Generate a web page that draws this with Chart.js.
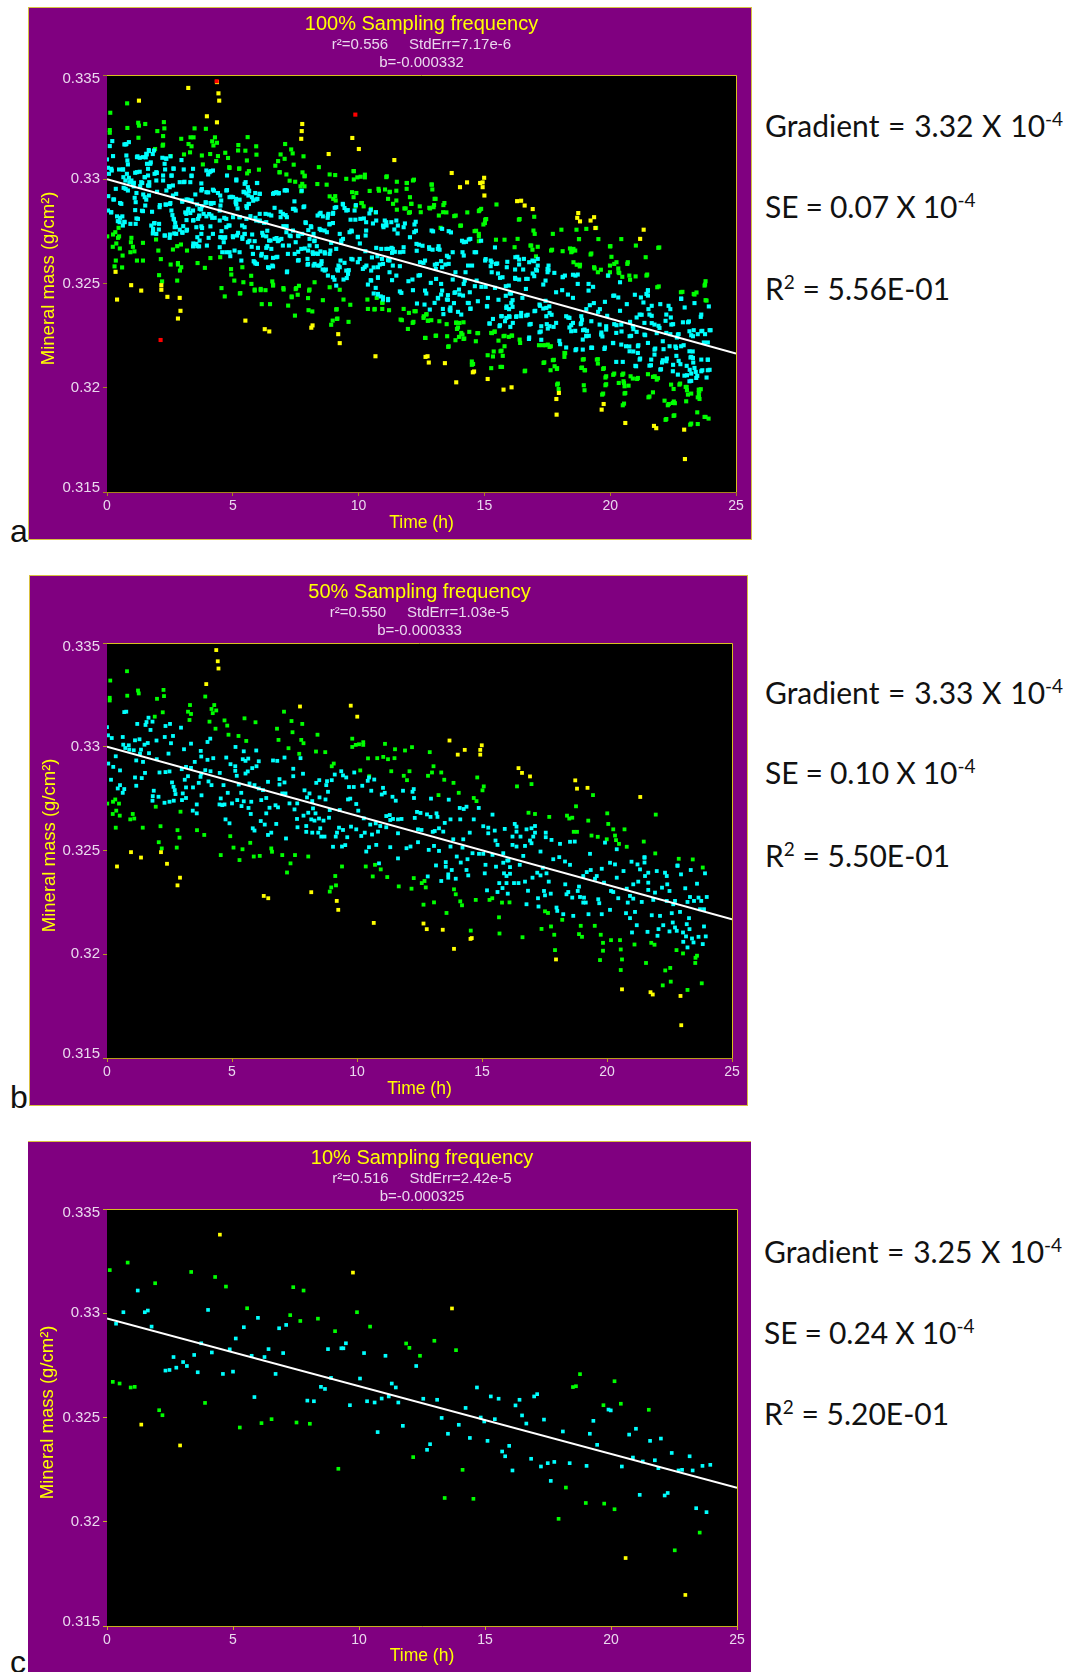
<!DOCTYPE html>
<html>
<head>
<meta charset="utf-8">
<script src="https://cdn.jsdelivr.net/npm/chart.js@4"></script>
<style>
html, body { margin: 0; padding: 0; background: #fff; }
body { position: relative; width: 1074px; height: 1672px; overflow: hidden; }
.panel { position: absolute; background: #800080; box-sizing: border-box; }
.panel canvas { display: block; }
.note { position: absolute; font-family: Lato, sans-serif; font-size: 30px; color: #111; white-space: nowrap; line-height: 36px; }
.note sup { font-size: 19px; line-height: 0; }
.grad { word-spacing: 1px; }
.se { word-spacing: -0.7px; }
.tag { position: absolute; font-family: "Liberation Sans", sans-serif; font-size: 32px; color: #111; line-height: 36px; }
</style>
</head>
<body>
<div class="panel" style="left:28px;top:7px;width:724px;height:533px;border:1px solid #d8c040"><canvas id="chartA" width="722" height="531"></canvas></div>
<div class="panel" style="left:29px;top:575px;width:719px;height:531px;border:1px solid #d8c040"><canvas id="chartB" width="717" height="529"></canvas></div>
<div class="panel" style="left:28px;top:1141px;width:723px;height:531px;border-top:1px solid #d8c040"><canvas id="chartC" width="723" height="530"></canvas></div>

<div class="tag" style="left:10px;top:513px">a</div>
<div class="tag" style="left:10px;top:1079px">b</div>
<div class="tag" style="left:10px;top:1644px">c</div>

<div class="note grad" style="left:765px;top:107px">Gradient = 3.32 X 10<sup>-4</sup></div>
<div class="note se" style="left:765px;top:188px">SE = 0.07 X 10<sup>-4</sup></div>
<div class="note" style="left:765px;top:270px">R<sup>2</sup> = 5.56E-01</div>
<div class="note grad" style="left:765px;top:674px">Gradient = 3.33 X 10<sup>-4</sup></div>
<div class="note se" style="left:765px;top:754px">SE = 0.10 X 10<sup>-4</sup></div>
<div class="note" style="left:765px;top:837px">R<sup>2</sup> = 5.50E-01</div>
<div class="note grad" style="left:764px;top:1233px">Gradient = 3.25 X 10<sup>-4</sup></div>
<div class="note se" style="left:764px;top:1314px">SE = 0.24 X 10<sup>-4</sup></div>
<div class="note" style="left:764px;top:1395px">R<sup>2</sup> = 5.20E-01</div>

<script>
var xTickLabels = ['0', '5', '10', '15', '20', '25'];
var yTickLabels = ['0.315', '0.32', '0.325', '0.33', '0.335'];

// regression lines, [time, mass] at both ends
var aLine = [[0, .33], [25, .32164]];
var bLine = [[0, .33], [25, .32169]];
var cLine = [[0, .32975], [25, .32163]];

// 10% panel
var cCyan = [[1.22,.33109],[.65,.33005],[1.5,.33005],[1.62,.33013],[.36,.3295],[1.77,.32936],[4.01,.33016],[5.99,.32978],[5.43,.32933],[6.83,.32928],[7.11,.32944],[5.11,.32879],[3.74,.32856],[4.87,.32827],[4.16,.32812],[3.46,.328],[2.64,.3279],[3.02,.32766],[3.17,.32747],[2.75,.32739],[2.32,.32725],[2.48,.32728],[3.6,.32717],[4.6,.32709],[5,.3272],[5.74,.32796],[6.25,.3279],[6.41,.32828],[6.99,.32809],[6.69,.32709],[5.85,.32598],[8.77,.32828],[9.3,.32832],[9.38,.32832],[9.48,.32856],[10.2,.32809],[11.05,.32796],[8.89,.3269],[10.04,.32687],[8.49,.32647],[8.65,.32637],[7.95,.32581],[8.21,.32578],[9.64,.32559],[10.32,.32578],[10.62,.32572],[10.9,.32591],[11.18,.32601],[11.3,.32663],[11.46,.32644],[11.56,.32572],[10.74,.3243],[12.27,.32747],[14.68,.32644],[15.23,.32601],[15.54,.3259],[16.37,.32585],[16.21,.32558],[16.95,.32601],[17.07,.32612],[12.55,.3259],[13.1,.32585],[14.23,.32546],[19.99,.32534],[13.28,.32498],[11.74,.3246],[13.96,.32465],[13.53,.32422],[14.83,.325],[14.97,.32481],[15.39,.32492],[14.4,.32402],[15.1,.32388],[12.82,.32372],[12.7,.32345],[15.68,.32337],[15.8,.32314],[15.96,.32364],[16.47,.3251],[16.64,.32471],[17.34,.3249],[18.09,.32433],[16.83,.32302],[17.22,.32265],[17.49,.32281],[17.75,.32287],[18.36,.32281],[19.03,.32268],[16.09,.32246],[17.61,.32196],[19.3,.32484],[19.9,.32538],[19.16,.32422],[19.45,.32369],[20.72,.32418],[20.99,.32446],[21.55,.32388],[21.98,.32399],[22.41,.3233],[23.12,.32314],[20.87,.32308],[21.26,.32289],[21.74,.32295],[20.43,.32265],[21.88,.32257],[22.68,.32246],[22.82,.32249],[23.24,.32246],[23.63,.32268],[23.94,.32273],[21.14,.32129],[22.13,.32126],[22.25,.32138],[23.38,.32065],[23.79,.32046]];
var cGreen = [[.11,.33207],[.82,.33243],[3.34,.33198],[1.91,.33144],[4.29,.33174],[4.72,.33128],[7.39,.33125],[7.8,.33109],[5.56,.33024],[7.27,.32991],[7.67,.32963],[8.37,.32974],[9.92,.33005],[10.44,.32936],[9.05,.32914],[.23,.32671],[.5,.32663],[.94,.32644],[1.1,.32647],[3.89,.3257],[2.07,.32535],[2.2,.32511],[5.27,.32452],[6.13,.32473],[6.53,.32492],[7.52,.32476],[8.05,.3247],[9.18,.32254],[11.87,.32855],[12,.32834],[12.42,.32796],[12.99,.32868],[13.85,.32823],[18.77,.32708],[18.49,.32646],[18.61,.3265],[20.14,.32674],[19.7,.32559],[20.39,.32566],[21.5,.32537],[12.15,.3231],[14.11,.32249],[13.4,.32114],[14.54,.3211],[18.21,.32164],[19,.3209],[19.73,.32087],[20.14,.3206],[17.92,.32014],[23.52,.31948],[22.53,.31863]];
var cYellow = [[4.48,.33377],[9.76,.33195],[1.36,.32466],[2.9,.32366],[13.69,.33023],[20.58,.31826],[22.95,.31649]];

// 50% panel
var bCyan = [[0,.33095],[.04,.33055],[.19,.33042],[.63,.33047],[.65,.3301],[.73,.32994],[.87,.33007],[.89,.32986],[1.07,.32983],[1.12,.33031],[1.3,.33036],[1.5,.3301],[1.63,.33018],[1.98,.3303],[1.68,.32969],[1.36,.32986],[1.32,.32967],[1.17,.32934],[1.44,.32927],[1.99,.3294],[1.21,.3311],[.69,.33167],[.77,.33169],[1.54,.33105],[1.58,.33119],[1.66,.3314],[1.82,.33121],[1.74,.33081],[2.34,.331],[2.52,.3311],[2.96,.33092],[2.31,.33047],[2.64,.33052],[2.56,.33017],[2.46,.32967],[3.08,.32988],[3.36,.33015],[3.75,.3298],[4.02,.33023],[4.13,.33039],[3.77,.32953],[4.02,.32937],[4.25,.32945],[3.51,.32927],[.05,.32919],[.25,.32903],[.35,.32954],[.52,.32886],[.16,.32841],[1.12,.32852],[1.39,.32849],[1.52,.32874],[2.1,.32876],[2.34,.32878],[2.5,.32881],[2.99,.32892],[3.16,.32903],[3.36,.32898],[3.24,.32858],[3.11,.32841],[3.77,.32871],[3.93,.32887],[4.14,.32882],[4.51,.32874],[3.74,.32855],[4.06,.32833],[4.18,.32815],[3.67,.32826],[4.77,.32948],[4.94,.32916],[5.13,.32906],[5.14,.32999],[5.47,.32978],[5.97,.32982],[5.43,.3294],[5.54,.32932],[5.65,.32943],[6.07,.3293],[5.13,.32884],[5.19,.3286],[5.54,.32871],[5.63,.32881],[5.81,.32897],[5.98,.32906],[6.64,.32934],[6.81,.32932],[7.1,.32948],[7.74,.32945],[7.45,.32894],[7.45,.32858],[7.84,.3287],[4.66,.32815],[4.83,.32778],[5.27,.32818],[5.37,.32778],[5.7,.32823],[5.9,.32815],[6.07,.32799],[6.24,.32791],[6.44,.32831],[6.9,.32844],[6.9,.32818],[7.1,.32828],[7.01,.32775],[7.14,.32775],[7.9,.3279],[8.1,.32775],[8.49,.32839],[8.37,.32826],[8.8,.32834],[8.77,.32815],[8.99,.32839],[9.11,.32866],[9.37,.32882],[9.44,.32862],[9.57,.32852],[9.89,.32876],[9.68,.32806],[9.87,.32806],[10.21,.32812],[10.43,.32836],[10.48,.32852],[10.69,.32842],[10.57,.32788],[11.04,.32802],[11.11,.32778],[10.99,.3277],[11.42,.32759],[11.55,.3274],[8.84,.32783],[8.74,.32746],[1.87,.32788],[1.83,.32762],[1.82,.3274],[2.06,.32759],[2.3,.3273],[2.5,.32735],[2.67,.3274],[3,.32743],[2.6,.32828],[2.66,.32807],[2.71,.32791],[2.74,.32772],[.52,.32815],[.43,.32799],[.69,.32796],[.63,.32778],[1.17,.32812],[3.03,.32775],[3.16,.32804],[3.16,.32753],[3.44,.32804],[3.78,.32766],[3.59,.32722],[3.43,.32692],[3.59,.32679],[4.5,.32722],[4.61,.32719],[4.7,.32722],[4.55,.32751],[5,.32727],[5.21,.32743],[5.47,.32737],[5.38,.32714],[5.66,.32705],[5.77,.32735],[6.17,.32743],[6.37,.32753],[6.5,.32706],[6.74,.32718],[6.84,.32708],[7.3,.32727],[7.5,.32698],[7.61,.32727],[8,.32756],[8.21,.32738],[8.5,.32756],[8.24,.32703],[8.34,.32679],[8.05,.32682],[7.86,.32668],[8.91,.32695],[9.31,.32695],[9.64,.32746],[9.73,.3275],[9.97,.32724],[10.05,.32692],[10.27,.32655],[4.74,.3265],[4.9,.32631],[5.75,.32676],[5.83,.32607],[5.9,.32596],[6.15,.32642],[6.31,.32625],[6.77,.32628],[6.44,.32575],[6.57,.32586],[7.16,.32558],[6.37,.32679],[7.6,.32652],[7.62,.32612],[8.17,.3265],[8.3,.32644],[8.48,.32654],[8.66,.32644],[8.88,.32658],[7.97,.32618],[7.97,.3259],[8.21,.32586],[8.53,.32607],[8.45,.32586],[8.57,.32567],[8.7,.32567],[9.04,.32518],[9.4,.32519],[9.53,.32526],[9.28,.3261],[9.44,.32599],[9.2,.32586],[9.15,.32567],[9.61,.32564],[9.76,.32615],[9.97,.32602],[10.17,.3257],[10.31,.32586],[10.6,.32577],[10.84,.32591],[10.53,.32625],[10.75,.32631],[11.17,.32666],[11.31,.32671],[11.33,.32647],[11.44,.32652],[11.64,.3265],[10.93,.32618],[11.17,.32612],[11.64,.32583],[10.77,.32527],[10.48,.32516],[10.37,.32495],[11.33,.32516],[10.88,.32438],[11.64,.32462],
[12.22,.32783],[12.27,.32796],[12.28,.32753],[11.84,.32788],[12.96,.3275],[13.67,.32745],[14.11,.32705],[14.27,.327],[14.38,.32711],[14.87,.32705],[15.42,.32673],[12.4,.32686],[12.54,.32681],[12.31,.32657],[11.78,.32652],[12.8,.32674],[12.94,.32662],[13.18,.32679],[13.22,.32662],[13.51,.32633],[13.74,.3265],[14.13,.3265],[14.67,.3265],[12.44,.32602],[12.58,.32599],[13.03,.3259],[13.28,.32607],[13.45,.32591],[13.11,.32594],[14.51,.32586],[15.05,.32617],[15.25,.3261],[15.25,.32583],[15.51,.32596],[15.91,.32604],[16.31,.32628],[16.38,.32615],[16.38,.32591],[16.78,.32602],[17.12,.32618],[16.98,.32607],[16.22,.32567],[16.54,.32567],[16.92,.32548],[17.05,.32567],[17.12,.32586],[17.55,.32586],[17.55,.32564],[17.78,.32551],[18.12,.32532],[18.52,.32542],[18.71,.32543],[15.54,.32548],[15.62,.32527],[16.22,.32527],[16.38,.32519],[16.72,.32522],[16.98,.32535],[17.34,.32495],[12.44,.3254],[11.98,.32511],[12.14,.32519],[13.08,.32522],[12.87,.32503],[13.28,.32498],[13.74,.32519],[14.25,.32554],[13.85,.32554],[14.22,.32514],[14.62,.32487],[14.88,.32484],[15.05,.32484],[15.42,.32479],[13.99,.32471],[14.15,.32442],[14.42,.32458],[15.85,.32487],[16.01,.32452],[16.65,.32474],[17.85,.32458],[18.09,.32468],[18.32,.32447],[18.52,.32431],[19.32,.32484],[19.92,.32538],[20.39,.32506],[21.5,.32468],[21.5,.32442],[22.82,.32426],
[13.16,.32428],[13.55,.32444],[13.55,.32422],[12.83,.32375],[13.37,.32353],[13.65,.32385],[13.65,.32369],[13.95,.32364],[13.79,.32406],[14.38,.32406],[14.45,.3238],[15.11,.3239],[15.14,.32431],[15.56,.32422],[15.85,.32441],[16.12,.3242],[16.06,.32452],[16.51,.32431],[15.88,.3239],[15.98,.32377],[16.12,.32388],[15.69,.32343],[15.98,.32343],[16.28,.32343],[16.46,.32343],[16.72,.3235],[15.82,.32319],[15.62,.323],[16.03,.32292],[15.2,.32308],[16.84,.32306],[16.78,.32241],[17.26,.3223],[17.24,.3227],[17.02,.32369],[17.21,.32393],[17.34,.3238],[17.58,.3239],[17.43,.32417],[17.67,.3235],[17.48,.32305],[17.52,.32284],[17.75,.32292],[17.98,.32225],[18.01,.32209],[18.25,.32193],[18.65,.32185],[18.38,.32289],[18.45,.323],[18.33,.32337],[18.61,.32273],[18.92,.32276],[19.08,.32273],[19.05,.32249],[19.15,.32249],[18.83,.32305],[18.88,.32326],[19.26,.32193],[19.79,.32193],[19.65,.32265],[19.69,.32246],[20.12,.32214],[19.05,.32377],[19.19,.32396],[19.35,.32406],[19.59,.32377],[19.79,.32412],[19.52,.32364],[19.88,.32345],[20.39,.32369],[20.12,.32441],[20.32,.32433],[20.66,.32401],[20.98,.32446],[21.22,.32433],[21.32,.32409],[21.52,.32377],[21.65,.32393],[21.5,.32465],[21.99,.32401],[22.32,.32393],[22.39,.32377],[22.96,.32385],[22.82,.32428],[23.35,.32406],[23.92,.3239],[21.05,.32337],[21.25,.3235],[21.65,.32345],[22.2,.32321],[22.41,.32337],[22.5,.32305],[20.16,.32305],[20.25,.323],[20.79,.32316],[20.92,.32281],[21.05,.32268],[21.39,.32252],[20.45,.3227],[20.83,.32249],[21.65,.3231],[21.92,.32297],[21.85,.32262],[22.39,.32257],[22.72,.32257],[22.65,.32241],[23.13,.32318],[23.6,.3234],[23.22,.32252],[23.32,.32276],[23.48,.32257],[23.66,.32273],[23.77,.32257],[23.99,.32276],[22.92,.32204],[22.59,.32198],[22.12,.32185],[21.79,.32188],[21.12,.32204],[20.92,.32174],[20.76,.32198],[23.72,.32217],[23.88,.32217],[23.28,.32174],[22.63,.32153],[22.25,.3214],[22.06,.32121],[22.72,.32129],[22.79,.32113],[22.5,.3211],[23.19,.32145],[23.3,.32121],[23.04,.32105],[23.16,.32086],[23.88,.32134],[21.19,.3214],[21,.32105],[21.62,.32108],[22.02,.32089],[23.4,.32076],[23.46,.32057],[23.66,.32084],[23.95,.32086],[23.05,.3206],[23.83,.32049],[23.22,.32033]];
var bGreen = [[.13,.33319],[.8,.33364],[.11,.33223],[.11,.33236],[1.24,.33271],[1.27,.33257],[.81,.33246],[2,.33231],[2.26,.33274],[2.28,.33244],[3.32,.33201],[3.93,.33242],[4.29,.33201],[4.18,.33182],[4.23,.33162],[4.37,.33175],[3.24,.33169],[3.36,.33158],[3.3,.33129],[2.23,.33166],[1.91,.33145],[4.1,.33121],[4.34,.33087],[4.7,.33127],[4.81,.33102],[5.5,.33137],[5.94,.33118],[4.86,.33058],[5.26,.33052],[5.57,.33028],[6.8,.33087],[6.86,.33033],[7.08,.33169],[7.38,.33124],[7.42,.3307],[7.81,.3311],[7.77,.33033],[7.86,.33017],[7.26,.32993],[7.69,.32966],[8.36,.32977],[8.73,.32974],[8.42,.33058],[9.81,.33039],[9.81,.32999],[9.95,.33009],[10.08,.33012],[10.25,.33022],[10.25,.33009],[11.12,.33014],[11.52,.32988],[10.44,.32944],[10.81,.32945],[11.05,.32951],[11.24,.3294],[11.5,.32945],[8.99,.32906],[9.07,.32919],[10.13,.32886],[10.49,.32858],[11.37,.32882],[.01,.32726],[.24,.32735],[.33,.32746],[.48,.32726],[.37,.32692],[.23,.32676],[.51,.32668],[.93,.3265],[1.09,.32654],[1.03,.32676],[.35,.3261],[1.43,.3261],[1.95,.32711],[2.14,.32617],[2.94,.32687],[2.82,.32598],[2.9,.32562],[3.6,.32598],[3.89,.32575],[2.07,.3254],[2.19,.3251],[2.79,.32514],[4.93,.32569],[5.06,.32514],[5.42,.32506],[5.73,.32537],[6.57,.3251],[6.6,.32494],[4.55,.32478],[5.3,.32454],[5.87,.32471],[6.11,.32474],[7.01,.32478],[7.52,.32478],[8.05,.32471],[7.34,.32438],[7.2,.32394],[9.13,.32377],[8.97,.32322],[8.91,.32302],[9.16,.32332],[9.4,.32423],[10.35,.32423],[10.72,.32431],[10.95,.32409],[10.63,.32375],[11.21,.32372],[11.67,.32327],
[11.92,.32982],[12.2,.32998],[12.91,.32974],[13.06,.32906],[13,.32876],[12.84,.3286],[12.1,.32882],[11.87,.3286],[12,.32839],[13.37,.32876],[13.49,.32841],[13.86,.32826],[13.26,.32767],[14.07,.32778],[14.81,.32852],[15.07,.32809],[15.02,.3279],[14.67,.32753],[14.78,.32738],[16.4,.32809],[16.98,.3282],[19.44,.32767],[18.76,.32713],[16.86,.32682],[17.12,.32676],[17.69,.32662],[18.4,.32668],[18.49,.32654],[18.61,.32658],[19.25,.32644],[20.01,.32679],[20.05,.32628],[20.25,.32602],[20.7,.32602],[21.95,.32673],[18.67,.3259],[18.8,.3259],[19.38,.32572],[19.63,.32566],[19.99,.32554],[20.32,.32572],[20.36,.3255],[20.48,.32532],[20.79,.32518],[21.47,.32543],[21.93,.32486],[22.87,.3246],[23.43,.32457],[23.83,.32418],
[12.27,.32367],[12.18,.32316],[12.59,.32343],[12.7,.32353],[12.75,.32322],[12.66,.32239],[13.08,.3225],[13.58,.32199],[13.88,.32313],[13.95,.32289],[14.13,.32255],[14.2,.32236],[14.75,.32262],[15.3,.32262],[15.41,.3227],[15.8,.32249],[16.1,.3225],[15.68,.32178],[15.7,.321],[14.55,.32114],[16.62,.32082],[17.52,.32207],[17.64,.32199],[18.21,.32166],[17.38,.32122],[17.76,.32134],[17.89,.32094],[17.92,.3202],[18.88,.32097],[19,.32084],[18.95,.32137],[19.51,.32137],[19.75,.32094],[19.84,.32055],[19.84,.32017],[19.72,.31972],[20.16,.32068],[20.52,.32068],[20.55,.32023],[20.6,.31975],[20.55,.31924],[21.1,.32047],[21.77,.32055],[21.9,.32046],[21.56,.31958],[22.78,.3202],[23.04,.32004],[22.33,.31922],[22.53,.31934],[22.23,.3185],[22.55,.31868],[23.54,.31983],[23.6,.31993],[23.53,.31958],[23.79,.3186],[23.22,.31828]];
var bYellow = [[4.37,.33466],[4.43,.33412],[4.46,.33377],[3.97,.33302],[7.72,.33194],[9.75,.33198],[10.01,.33145],[.96,.32492],[1.36,.32466],[2.16,.32492],[2.4,.32436],[.4,.32423],[2.92,.32369],[2.82,.32332],[6.27,.32281],[6.45,.3227],[8.17,.32299],[9.19,.32257],[9.25,.32214],[10.67,.32151],[13.7,.3303],[14.03,.32962],[14.31,.32985],[14.99,.33007],[14.93,.32985],[14.93,.32962],[16.46,.32897],[16.6,.32874],[16.92,.32857],[18.73,.32838],[18.8,.32798],[19.22,.32802],[21.33,.32758],[12.66,.32148],[12.79,.32121],[13.43,.32118],[13.88,.32026],[14.54,.32074],[14.59,.32078],[17.96,.31975],[20.6,.31831],[21.74,.31817],[21.83,.31806],[22.94,.31799],[22.97,.31658]];

// 100% panel: the 50% points plus the ones only seen at full sampling
var aCyanExtra = [[.21,.33183],[.11,.33159],[.74,.33167],[.87,.33178],[.24,.33111],[.77,.33114],[.81,.3309],[.83,.33071],[1.19,.33106],[1.3,.33103],[1.43,.33106],[1.56,.33122],[1.67,.33135],[1.87,.33138],[2.2,.33103],[2.36,.33098],[2.29,.33074],[1.59,.33074],[1.72,.33074],[1.63,.3305],[1.19,.33034],[.48,.33047],[.64,.33047],[.79,.33026],[.97,.32994],[1.03,.32982],[.17,.3305],[.08,.33026],
[2.65,.3305],[3.05,.33047],[3.42,.3305],[3.36,.33018],[3.31,.32986],[2.89,.32986],[3.05,.32986],[2.62,.3297],[2.49,.32962],[2.36,.32946],[1.96,.32994],[1.89,.33026],[1.96,.33034],[1.4,.32982],[1.5,.3301],[1.63,.3297],[1.68,.32986],[2.23,.33018],[2.23,.32994],[2.57,.33018],[.74,.32954],[.83,.32946],[.66,.32959],[1.06,.32966],
[3.95,.33042],[4.08,.33034],[4.21,.33042],[4.77,.33018],[5.14,.32994],[5.51,.32986],[5.6,.32962],[5.63,.32946],[5.96,.32982],[5.44,.32938],[5.62,.32922],[5.76,.32914],[5.89,.32934],[6.07,.3293],[5.93,.32903],[5.64,.32882],[5.56,.32863],[5.27,.32902],[5.11,.3289],[5.01,.32914],[5.14,.32879],[6.6,.3293],[6.73,.32938],[6.83,.32934],[7.06,.32946],[7.15,.32946],
[3.75,.32946],[3.95,.32938],[4.21,.3295],[4.41,.32934],[4.5,.32922],[4.74,.32946],[4.87,.32914],[4.54,.32898],[4.24,.32886],[3.92,.3289],[4.11,.32886],[4.48,.3285],
[.28,.32903],[.57,.32882],[1.1,.32911],[1.14,.3289],[1.5,.32914],[1.56,.32902],[1.67,.32922],[1.43,.32847],[1.79,.32844],[2.09,.32866],[2.33,.32879],[2.52,.32886],[2.62,.32922],[2.75,.3293],[2.99,.32898],[3.22,.32902],[3.35,.32898],[3.58,.32879],[3.42,.3285],[3.68,.32858],[3.84,.32834],[3.95,.32822],[4.15,.32826],[4.28,.32815],
[.04,.3285],[.17,.32842],[.4,.32822],[.61,.32822],[.5,.32794],[.7,.32794],[.93,.32786],[1.14,.32786],[1.23,.3281],[1.89,.3279],[1.76,.32778],[1.83,.32754],[1.96,.32738],[2.07,.32786],[2.29,.3273],[2.49,.32719],[2.56,.3285],[2.65,.3281],[2.69,.3277],[2.75,.32738],[3.22,.3285],[3.15,.32834],[3.31,.32838],[2.99,.32746],[3.18,.32758],[2.89,.32758],[3.42,.32802],[3.62,.3281],[3.66,.32822],[3.55,.3277],[3.75,.32774],[3.75,.32738],[4.11,.32774],[4.21,.32738],[4.04,.32719],[3.68,.32706],[3.55,.3269],[3.42,.32678],[3.66,.32678],[3.97,.32682],
[4.48,.32802],[4.74,.3281],[5.01,.32818],[5.27,.32818],[5.54,.3281],[4.54,.32722],[4.68,.32719],[4.64,.32698],[5.01,.32722],[5.17,.3273],[5.38,.32722],[5.47,.32738],[4.74,.3277],[4.87,.32778],[5.47,.3277],[5.93,.32802],[6.07,.32834],[6.33,.32794],[6.3,.32834],[6.53,.32826],[6.66,.32863],[6.99,.32834],[7.15,.32818],[7.39,.32858],[7.5,.3285],[7.81,.32866],[7.89,.32794],[8.12,.3277],[8.45,.32834],[8.58,.32822],[8.78,.32826],[8.98,.32834],[9.05,.32863],[9.38,.32879],[9.51,.3285],[9.84,.3285],[10.07,.3281],[10.3,.32794],[10.7,.32802],[10.97,.32778],[11.1,.32794],[11.3,.32794],[11.5,.32802],[11.56,.32778],
[6.07,.32802],[6.2,.3273],[6.33,.32726],[6.44,.32706],[6.66,.32714],[6.79,.32703],[6.93,.32714],[7.13,.32746],[7.26,.3273],[7.39,.32754],[7.59,.3273],[7.76,.32738],[8.05,.32714],[8.25,.32706],[8.45,.32762],[8.65,.32754],[8.85,.32786],[8.98,.3279],[9.25,.32738],[9.38,.32714],[9.71,.32754],[9.97,.32722],[10.28,.3273],[10.3,.32754],[10.7,.32671],[10.9,.32666],[11.1,.32666],[11.36,.32666],
[4.48,.32674],[4.58,.3265],[4.87,.3265],[5.07,.32658],[5.27,.3265],[5.6,.32698],[5.87,.32703],[6,.32671],[6.33,.32671],[6.53,.32666],[6.99,.32682],[7.23,.32682],[7.46,.32642],[7.72,.32666],[7.99,.32658],[8.19,.32642],[8.38,.32642],[8.65,.3265],[8.85,.32642],[9.11,.32666],[9.31,.32706],
[5.34,.3261],[5.8,.32642],[5.87,.32602],[5.96,.32594],[6.13,.32634],[6.33,.32626],[6.6,.32623],[6.73,.32626],[7.19,.32642],[7.59,.3261],[7.99,.32594],[8.25,.32594],[8.38,.32586],[8.52,.32594],[8.65,.32562],[8.78,.32538],[8.98,.3253],[9.18,.32562],[9.25,.32578],[9.51,.32562],[9.58,.32546],[9.71,.32618],[10.04,.32618],[10.24,.32578],[10.5,.32562],[10.77,.32578],[10.97,.32594],[11.23,.3261],[11.36,.32586],
[6.4,.32578],[6.6,.32582],[7.15,.32554],[10.5,.32514],[10.77,.3253],[11.23,.32554],[11.5,.32538],[10.77,.3245],[10.97,.32434],[11.17,.32426],[10.68,.32479],[10.6,.32452],[10.77,.32447],[10.97,.32423],[11.17,.3242],[9.11,.3249],
[11.7,.32455],[12.16,.32468],[12.32,.32404],[12.62,.32399],[12.69,.32452],[13.02,.32407],[13.15,.32431],[13.28,.32447],[13.51,.32423],[13.35,.32378],[13.62,.32375],[13.81,.32455],[14.01,.32447],[14.08,.32351],[14.34,.32407],[14.44,.32378],[14.74,.32415],[15.1,.32391],[15.21,.32308],[15.34,.3233],[15.6,.32295],[15.67,.32343],[15.87,.32335],[16,.3234],[15.87,.32383],[16.07,.32407],[16.13,.32311],[16.26,.3234],[16.46,.32359],[16.66,.32346],[16.79,.32303],[16.99,.32367],[17.19,.32399],[17.46,.32383],[17.59,.32359],[17.46,.32343],[17.26,.32295],[17.19,.32266],[17.59,.32295],[17.85,.32311],[18.25,.32343],[18.38,.32335],[18.52,.32311],[18.45,.32271],[18.85,.32343],[18.85,.32311],[18.98,.32279],[19.25,.32319],[19.05,.32247],[18.91,.32231],[19.25,.32191],[19.58,.32303],[19.84,.32295],[19.64,.32255],[19.84,.32279],[20.11,.32215],[20.24,.32263],[20.44,.32303],[20.44,.32207],[20.77,.32247],[20.63,.32199],[20.9,.32295],[21.17,.32351],[21.56,.32351],[21.36,.32311],[21.36,.32255],[21.5,.32215],[21.1,.32199],[21.76,.32303],[21.96,.32287],[22.23,.32351],[22.43,.32303],[22.23,.32263],[22.69,.32255],[22.89,.32314],[23.09,.32314],[23.15,.32271],[23.29,.32247],[23.62,.32351],[23.62,.32271],[23.95,.32276],[23.75,.32215],[22.09,.32223],[22.36,.32199],[22.62,.32191],[22.82,.32199],[23.15,.32175],[23.22,.32148],[23.29,.32143],[23.62,.32135],[23.88,.32135],[23.88,.32084],[23.62,.32079],[23.35,.32095],[23.22,.32068],[23.42,.32047],[23.15,.32031],[22.95,.32058],[22.69,.32063],[22.49,.32079],[22.23,.32127],[22.09,.32132],[21.63,.32135],[21.56,.32106],[21.17,.32135],[21.03,.32103],[20.24,.32124],[20.5,.32124],[21.99,.32087],[21.76,.32183],[21.76,.32159],[16.77,.32234],[18.62,.3218],[18.91,.32183],[19.28,.32191],[19.77,.32186],[20.77,.32175],[21.1,.32167],
[11.79,.3277],[12.21,.32746],[12.04,.32722],[12.9,.32754],[13.32,.32762],[13.58,.32751],[14.18,.32698],[14.44,.32714],[14.61,.3265],[14.18,.32634],[13.58,.32626],[13.15,.32666],[12.81,.32666],[12.3,.3269],[11.79,.32674],[15.03,.3261],[15.29,.32602],[15.46,.32594],[15.89,.32578],[16.23,.32626],[16.57,.32618],[16.91,.3261],[17.51,.3257],[17.51,.32554],[18.2,.32538],[18.62,.32538],[18.71,.32498],[18.11,.3253],[17.43,.32514],[19.14,.32498],[19.14,.32466],[20.16,.32442],[21.44,.3245],[15.29,.32554],[15.72,.3253],[14.35,.32586],[13.58,.32594],[13.32,.32578],[12.64,.3261],[12.38,.32538],[13.07,.3257],[16.23,.32522],[16.66,.32522],[17.09,.32562],[15.97,.3249],[14.18,.32498],[14.69,.32514],[12.64,.32466],[13.32,.32466],[13.84,.32458]];
var aGreenExtra = [[2.23,.33207],[2.21,.33161],[1.52,.33265],[1.25,.33199],[2.95,.33194],[3.44,.33201],[3.48,.33244],[3.06,.33119],[2.53,.33111],[3.77,.33114],[3.81,.33071],[4.41,.33111],[4.87,.33054],[5.22,.33164],[5.21,.33138],[5.56,.3309],[5.59,.33202],[5.93,.33158],[6.04,.33046],[5.25,.3305],[5.64,.33039],[6.9,.33119],[7.06,.33098],[6.69,.33065],[7.32,.33143],[7.13,.33023],[6.86,.33034],[7.48,.32988],[7.85,.33014],[7.76,.32978],[7.85,.32966],[7.72,.32942],[8.85,.33023],[9.07,.3302],[9.51,.33002],[9.8,.33039],[9.74,.32938],[9.91,.32934],[9.8,.32914],[8.85,.32918],[9.09,.32898],[9.88,.3287],[10.11,.32886],[10.2,.3287],[10.68,.32841],[10.79,.32954],[11.23,.32938],[11.1,.3301],[11.17,.32906],[11.5,.32898],[11.52,.32854],
[.46,.32767],[.44,.32719],[.97,.32719],[.95,.32698],[1.43,.32695],[1.19,.3261],[.62,.32634],[.3,.32582],[.6,.32577],[2.04,.32658],[2.53,.32591],[2.82,.32591],[2.95,.32578],[2.62,.32663],[2.79,.32679],[3.18,.32658],[4.11,.32622],[4.5,.32626],[4.94,.32543],[5.38,.32578],[5.74,.32498],[5.87,.32466],[6.11,.32468],[6.3,.32468],[4.68,.32438],[6.6,.3249],[7.02,.32471],[7.34,.32434],[7.63,.32489],[7.5,.32473],[8.03,.32466],[8.25,.32506],[8.85,.32482],[9.25,.3247],[5.28,.32452],[6.15,.32401],[6.48,.32401],[7.58,.32446],[7.99,.3243],[8.01,.32372],[8.16,.32366],[7.47,.32346],[8.58,.3242],[9.11,.32375],[9.14,.3233],[9.6,.32316],[9.67,.32398],[10.37,.32378],[10.64,.32378],[10.94,.32378],[10.94,.32407],
[11.79,.32378],[12,.32359],[12.22,.32367],[11.72,.32324],[11.96,.32282],[12.15,.32311],[12.58,.32335],[12.69,.32351],[12.76,.32321],[12.89,.32324],[13.21,.32319],[13.5,.32305],[12.64,.32239],[13.06,.32249],[13.52,.32247],[13.56,.32196],[13.88,.32311],[14.01,.32311],[14.17,.32314],[13.91,.32282],[14.08,.32263],[13.99,.32244],[13.85,.32228],[14.17,.32234],[14.4,.32268],[14.72,.32262],[14.66,.32223],[15.27,.32263],[15.4,.32268],[15.56,.32226],[15.76,.32247],[15.8,.32199],[15.97,.32244],[16.08,.3225],[16.4,.32231],[16.42,.32215],[15.13,.32156],[15.34,.3215],[15.37,.32174],[15.64,.32175],[15.73,.32153],[14.5,.32126],[14.5,.3211],[15.27,.32094],[15.64,.321],[16.6,.32079],[17.17,.32204],[17.32,.32204],[17.43,.32204],[17.59,.32196],[18.18,.32167],[18.18,.32148],[17.35,.32119],[17.72,.32132],[17.79,.32103],[17.88,.3209],[17.63,.32084],[17.89,.32015],[17.95,.31994],[18.91,.32135],[18.85,.32095],[18.98,.32084],[18.95,.32012],[18.98,.31988],[19.47,.32135],[19.51,.32116],[19.72,.3209],[19.81,.32049],[19.81,.32012],[19.68,.31967],[20.12,.32062],[20.48,.32062],[20.34,.32023],[20.53,.32031],[20.73,.3201],[20.57,.32007],[20.57,.31972],[20.5,.31916],[20.81,.32055],[20.9,.32044],[21.07,.32042],[21.5,.32065],[21.7,.32052],[21.85,.32039],[21.7,.31978],[21.52,.31954],[22.16,.31938],[22.29,.31916],[22.49,.31927],[22.57,.31926],[22.2,.31846],[22.52,.31865],[22.42,.32015],[22.75,.32015],[22.52,.31994],[23,.32004],[23.05,.31988],[23.09,.31967],[23.22,.31972],[23.02,.31935],[23.52,.31991],[23.52,.31975],[23.48,.31954],[23.55,.31946],[23.46,.31882],[23.18,.31823],[23.48,.31826],[23.75,.3186],[23.91,.31852],
[12.16,.32994],[11.91,.32982],[11.91,.32954],[12.9,.32975],[12.93,.32951],[12.04,.32914],[12.09,.32882],[12.43,.3287],[11.82,.3286],[12.04,.32842],[12.47,.32842],[13.02,.32906],[12.81,.32863],[12.98,.32866],[13.41,.32886],[13.36,.32842],[13.19,.32826],[13.8,.32823],[14.32,.32841],[14.04,.32777],[14.87,.32858],[14.78,.32847],[15.48,.32879],[15.03,.32806],[14.96,.32783],[16.37,.32806],[14.61,.32751],[14.78,.32726],[14.78,.32703],[15.46,.3271],[15.8,.3271],[16.32,.32714],[16.2,.32674],[16.83,.32682],[16.91,.32662],[17.05,.3263],[16.95,.32754],[17,.32738],[17.72,.32738],[18.06,.32758],[18.66,.32758],[19.05,.32762],[18.76,.32713],[19.53,.32713],[20.44,.32713],[19.99,.32678],[21.02,.32682],[21.91,.32671],[17.65,.32658],[18.11,.32655],[18.54,.32666],[18.45,.3265],[19.22,.32639],[21.41,.32626],[18.54,.32602],[18.79,.32582],[19.36,.32578],[19.51,.32554],[19.99,.32586],[20.16,.32594],[20.68,.32594],[20.33,.32554],[19.91,.32538],[20.76,.32538],[21.01,.32534],[21.44,.32538],[21.87,.32482],[23.79,.32511],[23.75,.3249],[22.81,.32458],[23.32,.3245],[23.35,.32447],[23.77,.32495],[23.79,.3242]];
var aYellowExtra = [[3.23,.33438],[1.27,.33377],[4.37,.33273],[7.76,.33265],[7.74,.33231],[8.81,.33121],[11.42,.33092],[.34,.32556],[2.16,.3247],[2.89,.32431],[5.5,.32322],[8.12,.32288],[12.74,.32151],[15.13,.32042],[15.76,.31991],[16.08,.32002],[17.86,.31946],[17.87,.31871],[19.74,.31922],[19.66,.31895],[14.83,.32982],[15,.32922],[16.3,.32895],[18.69,.32815],[19.36,.32818],[19.41,.32766],[21.19,.32714]];
var aRed = [[4.36,.3347],[9.87,.3331],[2.13,.32229]];

var aCyan = bCyan.concat(aCyanExtra);
var aGreen = bGreen.concat(aGreenExtra);
var aYellow = bYellow.concat(aYellowExtra);

// black plot area and the thin yellow frame round it
var plotFrame = {
    id: 'plotFrame',
    beforeDatasetsDraw: function(chart) {
        var a = chart.chartArea;
        var ctx = chart.ctx;
        ctx.save();
        ctx.fillStyle = '#000000';
        ctx.fillRect(a.left, a.top, a.right - a.left, a.bottom - a.top);
        ctx.restore();
    },
    afterDraw: function(chart) {
        var a = chart.chartArea;
        var ctx = chart.ctx;
        ctx.save();
        ctx.lineWidth = 1;
        ctx.strokeStyle = '#d8c020';
        ctx.beginPath();
        ctx.moveTo(a.left, a.top + 0.5);
        ctx.lineTo(a.right + 0.5, a.top + 0.5);
        ctx.lineTo(a.right + 0.5, a.bottom);
        ctx.stroke();
        ctx.restore();
    }
};

function pointSet(points, color, order, size) {
    return {
        type: 'scatter',
        data: points,
        backgroundColor: color,
        borderWidth: 0,
        pointStyle: 'rect',
        pointRadius: size,
        order: order
    };
}

// end labels sit inside the axis range, an empty second line nudges them
function yTickText(v, i) {
    if (i === 0) return [yTickLabels[i], ''];
    if (i === yTickLabels.length - 1) return ['', yTickLabels[i]];
    return yTickLabels[i];
}

function drawPanel(id, opts) {
    var sets = [{
        type: 'line',
        data: opts.line,
        borderColor: '#ffffff',
        borderWidth: 2,
        pointRadius: 0,
        order: 0
    }];
    sets.push(pointSet(opts.red, '#ff0000', 1, opts.size));
    sets.push(pointSet(opts.yellow, '#ffff00', 2, opts.size));
    sets.push(pointSet(opts.cyan, '#00ffff', 3, opts.size));
    sets.push(pointSet(opts.green, '#00ff00', 4, opts.size));

    new Chart(document.getElementById(id), {
        data: { datasets: sets },
        plugins: [plotFrame],
        options: {
            responsive: false,
            animation: false,
            layout: { padding: { right: opts.right, top: 0, bottom: 0, left: 0 } },
            plugins: {
                legend: { display: false },
                tooltip: { enabled: false },
                title: {
                    display: true,
                    text: opts.title,
                    fullSize: false,
                    color: '#ffff00',
                    font: { family: '"Liberation Sans"', size: 20, weight: 'normal', lineHeight: 1.15 },
                    padding: { top: 5, bottom: 0 }
                },
                subtitle: {
                    display: true,
                    text: opts.stats,
                    fullSize: false,
                    color: '#ead8ee',
                    font: { family: '"Liberation Sans"', size: 15, weight: 'normal', lineHeight: 1.2 },
                    padding: { top: 0, bottom: 3 }
                }
            },
            scales: {
                x: {
                    type: 'linear',
                    min: 0,
                    max: 25,
                    afterFit: function(s) { s.height = opts.bottom; },
                    border: { color: opts.axisColor, width: 1 },
                    grid: { drawOnChartArea: false, drawTicks: true, tickLength: 4, color: opts.axisColor },
                    ticks: {
                        stepSize: 5,
                        maxRotation: 0,
                        padding: 2,
                        color: '#ead8ee',
                        font: { family: '"Liberation Sans"', size: 14 },
                        callback: function(v, i) { return xTickLabels[i]; }
                    },
                    title: {
                        display: true,
                        text: 'Time (h)',
                        color: '#ffff00',
                        font: { family: '"Liberation Sans"', size: 17.5 },
                        padding: { top: 0, bottom: 5 }
                    }
                },
                y: {
                    type: 'linear',
                    min: 0.315,
                    max: 0.335,
                    afterFit: function(s) { s.width = opts.left; },
                    border: { color: opts.axisColor, width: 1 },
                    grid: { drawOnChartArea: false, drawTicks: true, tickLength: 4, color: opts.axisColor },
                    ticks: {
                        stepSize: 0.005,
                        padding: 3,
                        color: '#ead8ee',
                        font: { family: '"Liberation Sans"', size: 15, lineHeight: 0.55 },
                        callback: yTickText
                    },
                    title: {
                        display: true,
                        text: '\u00a0\u00a0Mineral mass (g/cm\u00b2)',
                        color: '#ffff00',
                        font: { family: '"Liberation Sans"', size: 18.5 },
                        padding: { top: 9, bottom: 0 }
                    }
                }
            }
        }
    });
}

drawPanel('chartA', {
    title: '100% Sampling frequency',
    stats: ['r\u00b2=0.556     StdErr=7.17e-6', 'b=-0.000332'],
    line: aLine, cyan: aCyan, green: aGreen, yellow: aYellow, red: aRed,
    size: 2.9, left: 78, right: 15, bottom: 47, axisColor: '#a8841c'
});
drawPanel('chartB', {
    title: '50% Sampling frequency',
    stats: ['r\u00b2=0.550     StdErr=1.03e-5', 'b=-0.000333'],
    line: bLine, cyan: bCyan, green: bGreen, yellow: bYellow, red: [],
    size: 2.7, left: 77, right: 15, bottom: 47, axisColor: '#b89c1c'
});
drawPanel('chartC', {
    title: '10% Sampling frequency',
    stats: ['r\u00b2=0.516     StdErr=2.42e-5', 'b=-0.000325'],
    line: cLine, cyan: cCyan, green: cGreen, yellow: cYellow, red: [],
    size: 2.6, left: 79, right: 14, bottom: 46, axisColor: '#c8b020'
});
</script>
</body>
</html>
